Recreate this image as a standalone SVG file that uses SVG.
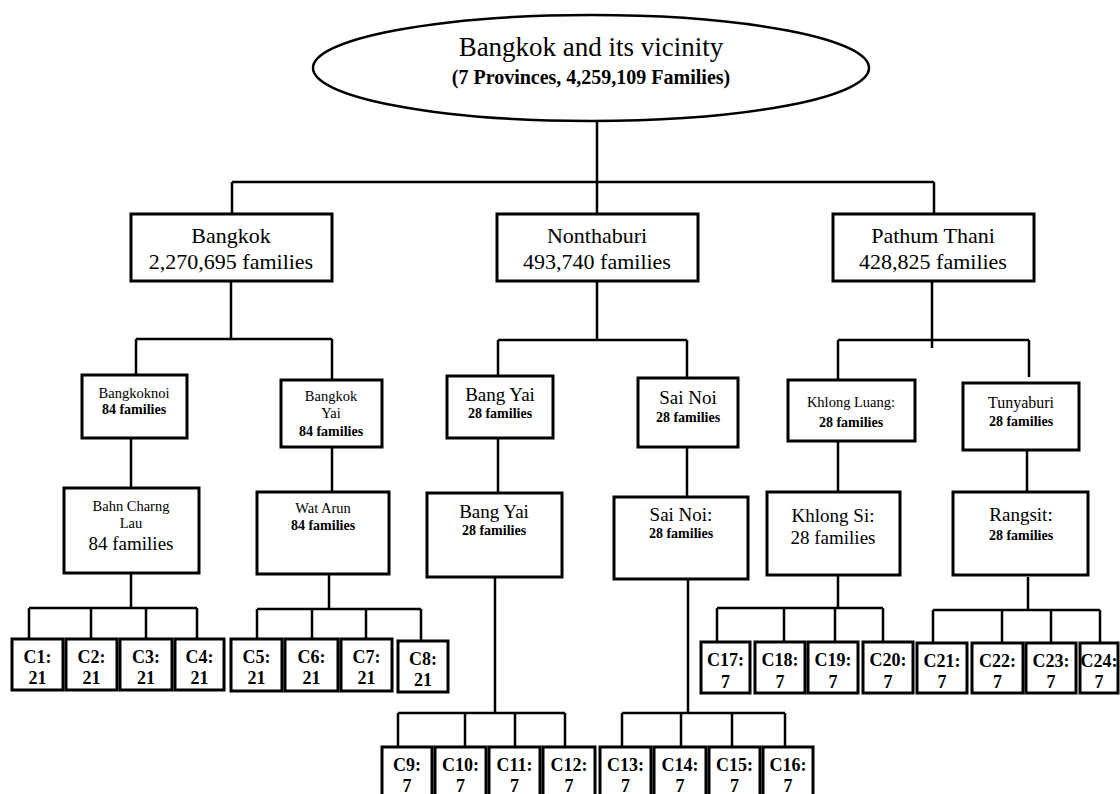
<svg xmlns="http://www.w3.org/2000/svg" width="1120" height="794" viewBox="0 0 1120 794">
<style>
.box{fill:#fff;stroke:#000;stroke-width:3}
.leaf{fill:#fff;stroke:#000;stroke-width:3}
.con{fill:none;stroke:#000;stroke-width:2.5}
text{font-family:"Liberation Serif","Times New Roman",serif;fill:#000;text-anchor:middle}
.big{font-size:22px}
.mid{font-size:19px}
.sm{font-size:14.5px}
.smb{font-size:14px;font-weight:bold}
.lf{font-size:18px;font-weight:bold}
</style>
<rect width="1120" height="794" fill="#fff"/>
<g id="connectors" class="con">
<path d="M597 122V182M232 182H934M232 182V214M597 182V214M934 182V214"/>
<path d="M231 281V339M136 339H332M136 339V375M332 339V380"/>
<path d="M131 438V488M131 573V608M29 608H197M29 608V639M91 608V639M146 608V639M197 608V639"/>
<path d="M332 447V492M329 574V609M257 609H421M257 609V639M312 609V639M366 609V639M421 609V641"/>
<path d="M597 281V340M498 340H687M498 340V376M687 340V378"/>
<path d="M498 438V493M495 577V713M398 713H565M398 713V747M465 713V747M515 713V747M565 713V747"/>
<path d="M687 447V497M688 579V713M622 713H785M622 713V747M681 713V747M732 713V747M785 713V747"/>
<path d="M932 281V348M838 340H1029M838 340V380M1029 340V377"/>
<path d="M838 441V492M838 575V608M717 608H883M717 608V642M784 608V642M835 608V642M883 608V642"/>
<path d="M1027 450V492M1028 577V610M933 610H1100M933 610V643M1002 610V643M1051 610V643M1100 610V643"/>
</g>
<g id="root">
<ellipse cx="591" cy="68" rx="278" ry="53" fill="#fff" stroke="#000" stroke-width="2.5"/>
<text x="591" y="56" style="font-size:27px">Bangkok and its vicinity</text>
<text x="591" y="84" style="font-size:20px;font-weight:bold">(7 Provinces, 4,259,109 Families)</text>
</g>
<g id="bangkok"><rect class="box" x="131" y="214" width="201" height="67"/><text class="big" x="231" y="243">Bangkok</text><text class="big" x="231" y="269">2,270,695 families</text></g>
<g id="nonthaburi"><rect class="box" x="497" y="214" width="201" height="67"/><text class="big" x="597" y="243">Nonthaburi</text><text class="big" x="597" y="269">493,740 families</text></g>
<g id="pathumthani"><rect class="box" x="833" y="214" width="201" height="67"/><text class="big" x="933" y="243">Pathum Thani</text><text class="big" x="933" y="269">428,825 families</text></g>

<g id="bangkoknoi"><rect class="box" x="82" y="375" width="105" height="63"/><text class="sm" x="134" y="398">Bangkoknoi</text><text class="smb" x="134" y="414">84 families</text></g>
<g id="bangkokyai"><rect class="box" x="281" y="380" width="101" height="67"/><text class="sm" x="331" y="401">Bangkok</text><text class="sm" x="331" y="418">Yai</text><text class="smb" x="331" y="436">84 families</text></g>
<g id="bahncharnglau"><rect class="box" x="64" y="488" width="135" height="85"/><text class="sm" x="131" y="511">Bahn Charng</text><text class="sm" x="131" y="528">Lau</text><text class="mid" x="131" y="550">84 families</text></g>
<g id="watarun"><rect class="box" x="257" y="492" width="132" height="82"/><text class="sm" x="323" y="513">Wat Arun</text><text class="smb" x="323" y="530">84 families</text></g>

<g id="bangyai1"><rect class="box" x="447" y="376" width="106" height="62"/><text class="mid" x="500" y="401">Bang Yai</text><text class="smb" x="500" y="418">28 families</text></g>
<g id="bangyai2"><rect class="box" x="427" y="493" width="135" height="84"/><text class="mid" x="494" y="518">Bang Yai</text><text class="smb" x="494" y="535">28 families</text></g>
<g id="sainoi1"><rect class="box" x="638" y="378" width="100" height="69"/><text class="mid" x="688" y="404">Sai Noi</text><text class="smb" x="688" y="422">28 families</text></g>
<g id="sainoi2"><rect class="box" x="614" y="497" width="134" height="82"/><text class="mid" x="681" y="521">Sai Noi:</text><text class="smb" x="681" y="538">28 families</text></g>

<g id="khlongluang"><rect class="box" x="788" y="380" width="127" height="61"/><text class="sm" x="851" y="407">Khlong Luang:</text><text class="smb" x="851" y="427">28 families</text></g>
<g id="tunyaburi"><rect class="box" x="963" y="383" width="116" height="67"/><text class="sm" style="font-size:16px" x="1021" y="408">Tunyaburi</text><text class="smb" x="1021" y="426">28 families</text></g>
<g id="khlongsi"><rect class="box" x="767" y="492" width="133" height="83"/><text class="mid" x="833" y="522">Khlong Si:</text><text class="mid" x="833" y="544">28 families</text></g>
<g id="rangsit"><rect class="box" x="953" y="492" width="135" height="83"/><text class="mid" x="1021" y="521">Rangsit:</text><text class="smb" x="1021" y="540">28 families</text></g>

<g id="c1"><rect class="leaf" x="12" y="639" width="51" height="51"/><text class="lf" x="37.5" y="663">C1:</text><text class="lf" x="37.5" y="684">21</text></g>
<g id="c2"><rect class="leaf" x="66" y="639" width="51" height="51"/><text class="lf" x="91.5" y="663">C2:</text><text class="lf" x="91.5" y="684">21</text></g>
<g id="c3"><rect class="leaf" x="120" y="639" width="52" height="51"/><text class="lf" x="146" y="663">C3:</text><text class="lf" x="146" y="684">21</text></g>
<g id="c4"><rect class="leaf" x="175" y="639" width="49" height="51"/><text class="lf" x="199.5" y="663">C4:</text><text class="lf" x="199.5" y="684">21</text></g>
<g id="c5"><rect class="leaf" x="231" y="639" width="51" height="52"/><text class="lf" x="256.5" y="663">C5:</text><text class="lf" x="256.5" y="684">21</text></g>
<g id="c6"><rect class="leaf" x="285" y="639" width="53" height="52"/><text class="lf" x="311.5" y="663">C6:</text><text class="lf" x="311.5" y="684">21</text></g>
<g id="c7"><rect class="leaf" x="341" y="639" width="51" height="52"/><text class="lf" x="366.5" y="663">C7:</text><text class="lf" x="366.5" y="684">21</text></g>
<g id="c8"><rect class="leaf" x="398" y="641" width="50" height="51"/><text class="lf" x="423" y="665">C8:</text><text class="lf" x="423" y="686">21</text></g>

<g id="c9"><rect class="leaf" x="382" y="747" width="50" height="52"/><text class="lf" x="407" y="771">C9:</text><text class="lf" x="407" y="792">7</text></g>
<g id="c10"><rect class="leaf" x="435" y="747" width="51" height="52"/><text class="lf" x="460.5" y="771">C10:</text><text class="lf" x="460.5" y="792">7</text></g>
<g id="c11"><rect class="leaf" x="489" y="747" width="51" height="52"/><text class="lf" x="514.5" y="771">C11:</text><text class="lf" x="514.5" y="792">7</text></g>
<g id="c12"><rect class="leaf" x="543" y="747" width="52" height="52"/><text class="lf" x="569" y="771">C12:</text><text class="lf" x="569" y="792">7</text></g>
<g id="c13"><rect class="leaf" x="600" y="747" width="51" height="52"/><text class="lf" x="625.5" y="771">C13:</text><text class="lf" x="625.5" y="792">7</text></g>
<g id="c14"><rect class="leaf" x="654" y="747" width="52" height="52"/><text class="lf" x="680" y="771">C14:</text><text class="lf" x="680" y="792">7</text></g>
<g id="c15"><rect class="leaf" x="709" y="747" width="51" height="52"/><text class="lf" x="734.5" y="771">C15:</text><text class="lf" x="734.5" y="792">7</text></g>
<g id="c16"><rect class="leaf" x="763" y="747" width="50" height="52"/><text class="lf" x="788" y="771">C16:</text><text class="lf" x="788" y="792">7</text></g>

<g id="c17"><rect class="leaf" x="701" y="642" width="49" height="51"/><text class="lf" x="725.5" y="666">C17:</text><text class="lf" x="725.5" y="688">7</text></g>
<g id="c18"><rect class="leaf" x="755" y="642" width="50" height="51"/><text class="lf" x="780" y="666">C18:</text><text class="lf" x="780" y="688">7</text></g>
<g id="c19"><rect class="leaf" x="808" y="642" width="50" height="51"/><text class="lf" x="833" y="666">C19:</text><text class="lf" x="833" y="688">7</text></g>
<g id="c20"><rect class="leaf" x="863" y="642" width="50" height="51"/><text class="lf" x="888" y="666">C20:</text><text class="lf" x="888" y="688">7</text></g>
<g id="c21"><rect class="leaf" x="917" y="643" width="50" height="50"/><text class="lf" x="942" y="667">C21:</text><text class="lf" x="942" y="688">7</text></g>
<g id="c22"><rect class="leaf" x="972" y="643" width="51" height="50"/><text class="lf" x="997.5" y="667">C22:</text><text class="lf" x="997.5" y="688">7</text></g>
<g id="c23"><rect class="leaf" x="1026" y="643" width="50" height="50"/><text class="lf" x="1051" y="667">C23:</text><text class="lf" x="1051" y="688">7</text></g>
<g id="c24"><rect class="leaf" x="1080" y="643" width="38" height="50"/><text class="lf" x="1099" y="667">C24:</text><text class="lf" x="1099" y="688">7</text></g>
</svg>
